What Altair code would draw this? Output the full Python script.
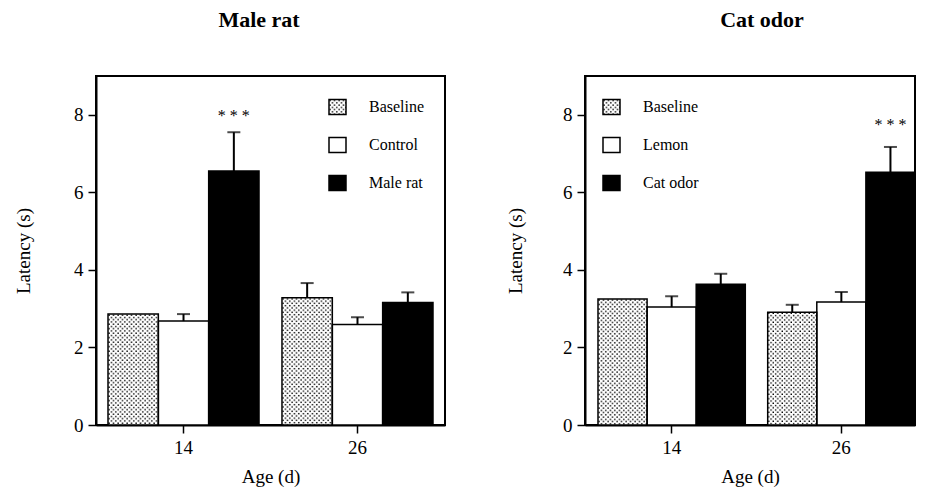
import urllib.parse
import altair as alt
import pandas as pd

# ---------------- data ----------------
ages = ["14", "26"]

male_conditions = ["Baseline", "Control", "Male rat"]
male_mean_14 = [2.86, 2.68, 6.55]
male_mean_26 = [3.28, 2.59, 3.16]
male_sem_14 = [0.0, 0.18, 1.00]
male_sem_26 = [0.38, 0.19, 0.26]
male_sig_14 = ["", "", "* * *"]
male_sig_26 = ["", "", ""]

cat_conditions = ["Baseline", "Lemon", "Cat odor"]
cat_mean_14 = [3.25, 3.04, 3.63]
cat_mean_26 = [2.91, 3.17, 6.52]
cat_sem_14 = [0.0, 0.28, 0.27]
cat_sem_26 = [0.19, 0.26, 0.65]
cat_sig_14 = ["", "", ""]
cat_sig_26 = ["", "", "* * *"]

FONT = "Liberation Serif"

DOTS_SVG = (
    "<svg xmlns='http://www.w3.org/2000/svg' width='100%' height='100%'>"
    "<defs><pattern id='d' width='4.5' height='4.5' patternUnits='userSpaceOnUse'>"
    "<rect width='4.5' height='4.5' fill='white'/>"
    "<rect x='0.4' y='0.4' width='1.4' height='1.4' fill='black'/>"
    "<rect x='2.65' y='2.65' width='1.4' height='1.4' fill='black'/>"
    "</pattern></defs>"
    "<rect width='100%' height='100%' fill='url(#d)'/></svg>"
)
DOTS_URI = "data:image/svg+xml;charset=utf-8," + urllib.parse.quote(DOTS_SVG)


def make_panel(title, conds, means, sems, sigs, width, x_scale,
               title_x, legend_x, y_title_pad, x_title_pad, star_dy):
    rows = []
    for age, m, s, g in zip(ages, means, sems, sigs):
        for c, mv, sv, gv in zip(conds, m, s, g):
            rows.append(dict(age=age, cond=c, mean=mv, sem=sv, hi=mv + sv, sig=gv))
    df = pd.DataFrame(rows)

    x = alt.X("age:N", sort=ages, scale=x_scale,
              axis=alt.Axis(title="Age (d)", labelAngle=0, titlePadding=x_title_pad))
    xo = alt.XOffset("cond:N", sort=conds,
                     scale=alt.Scale(domain=conds, paddingInner=0, paddingOuter=0))
    yscale = alt.Scale(domain=[0, 9], nice=False, zero=True)
    y = alt.Y("mean:Q", scale=yscale, title="Latency (s)",
              axis=alt.Axis(values=[0, 2, 4, 6, 8], titlePadding=y_title_pad))
    y_plain = alt.Y("mean:Q", scale=yscale, title="Latency (s)")
    fill = alt.Fill("cond:N", scale=alt.Scale(domain=conds, range=["#d4d4d4", "white", "black"]),
                    legend=None)

    base = alt.Chart(df)
    bars_fill = base.mark_bar(strokeWidth=0).encode(x=x, xOffset=xo, y=y, fill=fill)
    bars_img = base.transform_filter(alt.datum.cond == conds[0]).mark_image(
        aspect=False).encode(
        x=x, xOffset=xo, y=y_plain, y2=alt.datum(0), url=alt.value(DOTS_URI))
    bars_line = base.mark_bar(fillOpacity=0, stroke="black", strokeWidth=1.5).encode(
        x=x, xOffset=xo, y=y_plain)
    err = base.transform_filter(alt.datum.sem > 0).mark_rule(
        color="black", strokeWidth=2).encode(
        x=x, xOffset=xo, y=y_plain, y2="hi:Q")
    cap = base.transform_filter(alt.datum.sem > 0).mark_tick(
        orient="horizontal", size=13, thickness=2, color="black").encode(
        x=x, xOffset=xo, y=alt.Y("hi:Q", scale=yscale, title="Latency (s)"))
    stars = base.transform_filter(alt.datum.sig != "").mark_text(
        font=FONT, fontSize=16, baseline="alphabetic", dy=star_dy, color="black").encode(
        x=x, xOffset=xo, y=alt.Y("hi:Q", scale=yscale, title="Latency (s)"), text="sig:N")
    ttl = alt.Chart(alt.Data(values=[{"t": title}])).mark_text(
        font=FONT, fontSize=22, fontWeight="bold", baseline="alphabetic", align="center",
        color="black").encode(text="t:N", x=alt.value(title_x), y=alt.value(-49))

    data_layer = alt.layer(bars_fill, bars_img, bars_line, err, cap, stars, ttl)

    leg_df = pd.DataFrame({"cond": conds})
    leg_y = alt.Y("cond:N", sort=conds,
                  scale=alt.Scale(type="point", domain=conds, range=[31, 107], padding=0),
                  axis=None)
    lbase = alt.Chart(leg_df)
    leg_fill = lbase.mark_rect(height=15, strokeWidth=0).encode(
        x=alt.value(legend_x), x2=alt.value(legend_x + 17), y=leg_y, fill=fill)
    leg_img = lbase.transform_filter(alt.datum.cond == conds[0]).mark_image(
        aspect=False, height=15).encode(
        x=alt.value(legend_x), x2=alt.value(legend_x + 17), y=leg_y, url=alt.value(DOTS_URI))
    leg_line = lbase.mark_rect(height=15, fillOpacity=0, stroke="black", strokeWidth=1.5).encode(
        x=alt.value(legend_x), x2=alt.value(legend_x + 17), y=leg_y)
    leg_text = lbase.mark_text(font=FONT, fontSize=16, align="left", baseline="middle",
                               color="black").encode(
        x=alt.value(legend_x + 40), y=leg_y, text="cond:N")
    legend_layer = alt.layer(leg_fill, leg_img, leg_line, leg_text)

    return alt.layer(data_layer, legend_layer).resolve_scale(y="independent").properties(
        width=width, height=349)


left = make_panel("Male rat", male_conditions,
                  [male_mean_14, male_mean_26], [male_sem_14, male_sem_26],
                  [male_sig_14, male_sig_26],
                  width=349,
                  x_scale=alt.Scale(paddingInner=0.132, paddingOuter=0.069, align=0.5),
                  title_x=163, legend_x=233, y_title_pad=40, x_title_pad=10, star_dy=-11)
# the reference cuts the right panel at the picture's right edge; here it ends at the last bar
right = make_panel("Cat odor", cat_conditions,
                   [cat_mean_14, cat_mean_26], [cat_sem_14, cat_sem_26],
                   [cat_sig_14, cat_sig_26],
                   width=330,
                   x_scale=alt.Scale(paddingInner=0.132, paddingOuter=0.0383, align=1.0),
                   title_x=177, legend_x=18, y_title_pad=37, x_title_pad=10, star_dy=-17)

chart = alt.hconcat(left, right, spacing=59).resolve_scale(
    x="independent", xOffset="independent", y="independent", fill="independent"
).properties(
    padding={"left": 5, "top": 0, "right": 0, "bottom": 0}
).configure_view(
    stroke="black", strokeWidth=2
).configure_axis(
    grid=False, domainColor="black", domainWidth=2, tickColor="black", tickWidth=1.5,
    tickSize=8, labelFont=FONT, labelFontSize=19, labelColor="black", labelPadding=5,
    titleFont=FONT, titleFontSize=19, titleFontWeight="normal", titleColor="black"
)

chart.save("out.html", embed_options={"renderer": "svg", "actions": False})
